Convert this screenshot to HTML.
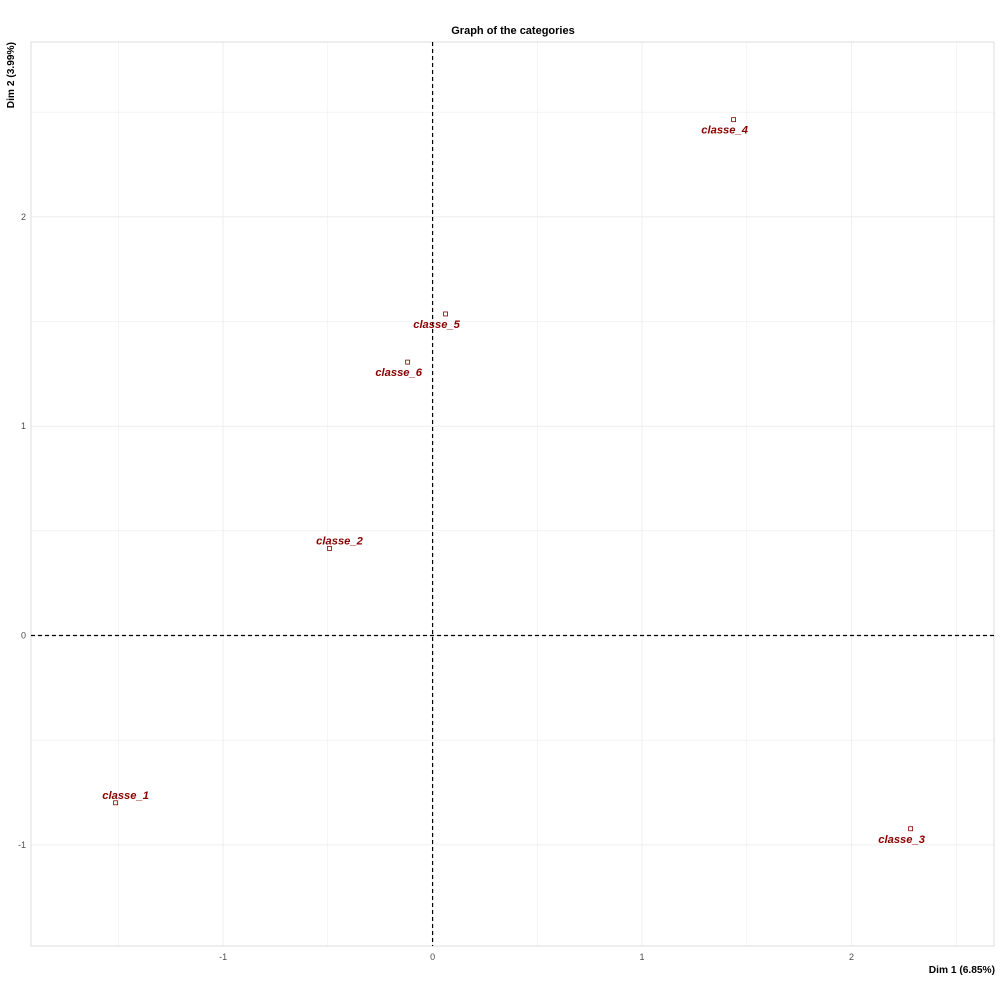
<!DOCTYPE html>
<html><head><meta charset="utf-8"><style>
body{margin:0;background:#fff;}
svg{display:block;font-family:"Liberation Sans",sans-serif;}
</style></head><body>
<svg id="chart" width="1000" height="1000">
<text x="513" y="34" text-anchor="middle" font-size="11" font-weight="bold">Graph of the categories</text>
<text x="995" y="973" text-anchor="end" font-size="10.2" font-weight="bold">Dim 1 (6.85%)</text>
<text transform="translate(14,42) rotate(-90)" text-anchor="end" font-size="10.2" font-weight="bold">Dim 2 (3.99%)</text>
<g id="grid"></g><g id="ticks"></g><g id="marks"></g>
</svg>
<script>
const categories=["classe_1","classe_2","classe_3","classe_4","classe_5","classe_6"];
const dim1=[-1.513,-0.492,2.282,1.437,0.062,-0.119];
const dim2=[-0.799,0.416,-0.923,2.464,1.536,1.306];
const labelAbove=[true,true,false,false,false,false];
const xTicks=[-1,0,1,2];
const yTicks=[-1,0,1,2];
const xMin=-1.917,xMax=2.68,yMin=-1.483,yMax=2.835;
const L=31,R=994,T=42,B=946;
const sx=v=>L+(v-xMin)/(xMax-xMin)*(R-L);
const sy=v=>B-(v-yMin)/(yMax-yMin)*(B-T);
const NS="http://www.w3.org/2000/svg";
function mk(tag,attrs,parent){const e=document.createElementNS(NS,tag);for(const k in attrs)e.setAttribute(k,attrs[k]);parent.appendChild(e);return e;}
const grid=document.getElementById('grid'),ticks=document.getElementById('ticks'),marks=document.getElementById('marks');
for(let v=-1.5;v<=2.5;v+=0.5){
  const x=sx(v); if(x>L&&x<R){const l=mk('line',{x1:x,x2:x,y1:T,y2:B,stroke:'#ebebeb','stroke-width':Number.isInteger(v)?0.8:0.5},grid);
  
  }
  const y=sy(v); if(y>T&&y<B){const l=mk('line',{x1:L,x2:R,y1:y,y2:y,stroke:'#ebebeb','stroke-width':Number.isInteger(v)?0.8:0.5},grid);
  
  }
}
const border=mk('rect',{x:L,y:T,width:R-L,height:B-T,fill:'none',stroke:'#d6d6d6','stroke-width':0.8},grid);


xTicks.forEach(v=>{const t=mk('text',{x:sx(v),y:B+14,'text-anchor':'middle','font-size':9,fill:'#4d4d4d'},ticks);t.textContent=v;

});
yTicks.forEach(v=>{const t=mk('text',{x:L-5,y:sy(v)+3,'text-anchor':'end','font-size':9,fill:'#4d4d4d'},ticks);t.textContent=v;

});
const h=mk('line',{x1:L,x2:R,y1:sy(0),y2:sy(0),stroke:'#000','stroke-width':1.2,'stroke-dasharray':'4,3'},grid);


const vl=mk('line',{x1:sx(0),x2:sx(0),y1:T,y2:B,stroke:'#000','stroke-width':1.2,'stroke-dasharray':'4,3'},grid);


categories.forEach((c,i)=>{
  const x=sx(dim1[i]),y=sy(dim2[i]);
  const p=mk('rect',{x:x-2,y:y-2,width:4,height:4,fill:'none',stroke:'#8b0000','stroke-width':0.8},marks);
  
  
  const t=mk('text',{x:labelAbove[i]?x+10:x-9,y:labelAbove[i]?y-4:y+14,'text-anchor':'middle','font-size':11.2,'font-weight':'bold','font-style':'italic',fill:'#8b0000'},marks);
  t.textContent=c;
  
  
});
</script>
</body></html>
